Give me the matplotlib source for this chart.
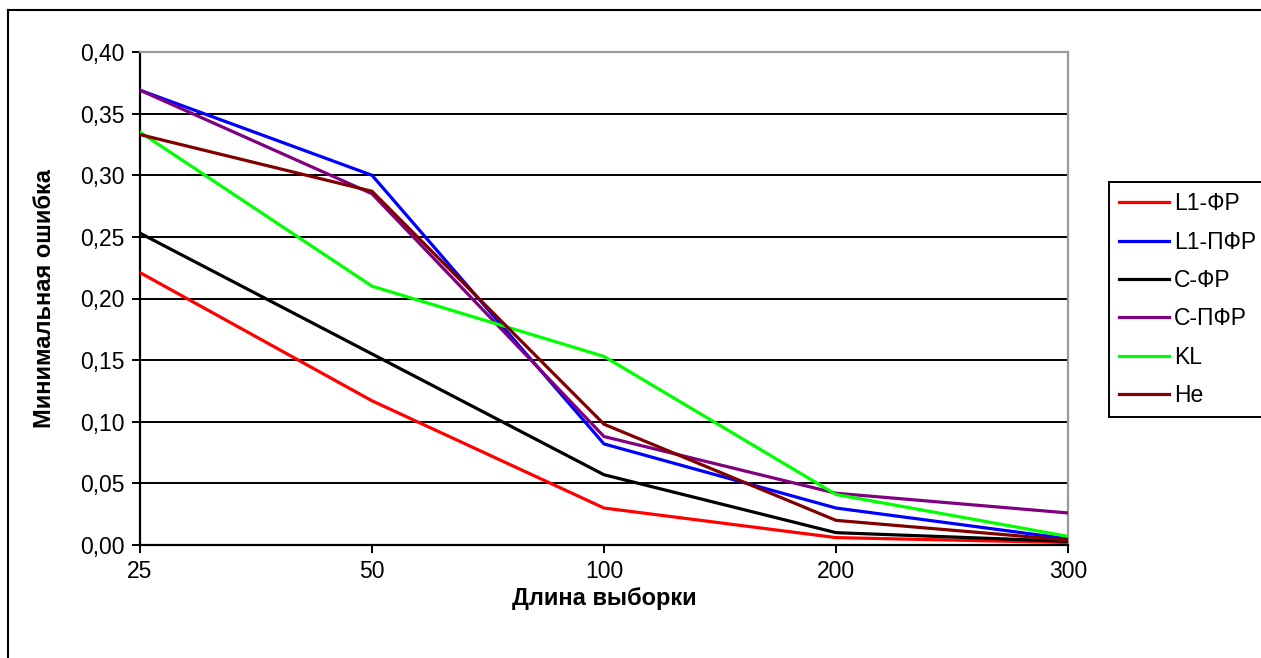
import matplotlib
matplotlib.use("Agg")
import matplotlib.pyplot as plt
from matplotlib.lines import Line2D
from matplotlib.ticker import FuncFormatter

plt.rcParams['font.family'] = ['Liberation Sans', 'DejaVu Sans']

sizes = ['25', '50', '100', '200', '300']
l1_fr = [0.221, 0.117, 0.030, 0.006, 0.002]
l1_pfr = [0.369, 0.300, 0.082, 0.030, 0.005]
c_fr = [0.253, 0.155, 0.057, 0.010, 0.003]
c_pfr = [0.369, 0.285, 0.088, 0.042, 0.026]
kl = [0.335, 0.210, 0.153, 0.041, 0.007]
he = [0.333, 0.287, 0.098, 0.020, 0.004]

series = [
    ('L1-ФР', l1_fr, '#ff0000'),
    ('L1-ПФР', l1_pfr, '#0000ff'),
    ('С-ФР', c_fr, '#000000'),
    ('С-ПФР', c_pfr, '#800080'),
    ('KL', kl, '#00ff00'),
    ('He', he, '#800000'),
]

W, H = 1261, 658
fig = plt.figure(figsize=(W / 100, H / 100), dpi=100)
ax = fig.add_axes([140 / W, 1 - 545 / H, (1068 - 140) / W, (545 - 52) / H])

x = list(range(len(sizes)))
for name, vals, col in series:
    ax.plot(x, vals, color=col, lw=2.3, label=name, solid_joinstyle='miter', zorder=3)

ax.set_xlim(0, len(sizes) - 1)
ax.set_ylim(0, 0.40)
ax.set_xticks(x)
ax.set_xticklabels(sizes)
ax.set_yticks([i * 0.05 for i in range(9)])
ax.yaxis.set_major_formatter(FuncFormatter(lambda v, p: f'{v:.2f}'.replace('.', ',')))
ax.yaxis.grid(True, color='black', lw=1.4)
ax.set_axisbelow(True)

ax.tick_params(axis='both', direction='out', length=6, width=1.4, colors='black',
               labelsize=16.5, pad=5)
for s in ('left', 'bottom'):
    ax.spines[s].set_color('black')
    ax.spines[s].set_linewidth(1.6)
for s in ('top', 'right'):
    ax.spines[s].set_color('#999999')
    ax.spines[s].set_linewidth(1.6)

fig.text(604 / W, 1 - 598 / H, 'Длина выборки', ha='center', va='center',
         fontsize=17, fontweight='bold')
fig.text(45 / W, 1 - 298 / H, 'Минимальная ошибка', ha='center', va='center',
         rotation=90, fontsize=17, fontweight='bold')

# outer chart frame
fig.add_artist(Line2D([8 / W, 8 / W], [0, 1 - 10 / H], color='black', lw=1.5,
                      transform=fig.transFigure))
fig.add_artist(Line2D([8 / W, 1], [1 - 10 / H, 1 - 10 / H], color='black', lw=1.5,
                      transform=fig.transFigure))

leg = fig.legend(loc='upper left', bbox_to_anchor=(1109 / W, 1 - 182 / H),
                 bbox_transform=fig.transFigure, borderaxespad=0, fontsize=16.5,
                 frameon=True, fancybox=False, edgecolor='black', framealpha=1,
                 handlelength=2.15, handletextpad=0.22, labelspacing=0.67,
                 borderpad=0.45)
leg.get_frame().set_linewidth(1.4)

fig.savefig('out.png', dpi=100)
